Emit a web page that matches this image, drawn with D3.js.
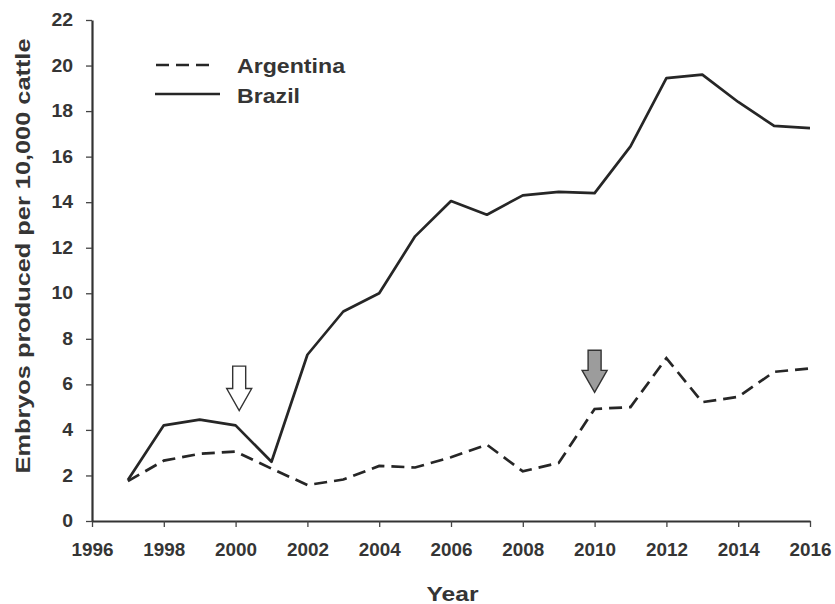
<!DOCTYPE html>
<html>
<head>
<meta charset="utf-8">
<script src="https://cdn.jsdelivr.net/npm/d3@7"></script>
<style>
    body { margin: 0; background: #fff; }
    svg { display: block; }
    text { font-family: "Liberation Sans", Arial, sans-serif; font-weight: bold; fill: #353535; }
</style>
</head>
<body>
<svg></svg>
<script>
// chart data
var years = [1997, 1998, 1999, 2000, 2001, 2002, 2003, 2004, 2005, 2006,
             2007, 2008, 2009, 2010, 2011, 2012, 2013, 2014, 2015, 2016];
var brazil = [1.8, 4.2, 4.45, 4.2, 2.6, 7.3, 9.2, 10.0, 12.5, 14.05,
              13.45, 14.3, 14.45, 14.4, 16.45, 19.45, 19.6, 18.4, 17.35, 17.25];
var argentina = [1.75, 2.65, 2.95, 3.05, 2.3, 1.58, 1.82, 2.42, 2.35, 2.8,
                 3.35, 2.18, 2.55, 4.92, 5.0, 7.15, 5.22, 5.45, 6.55, 6.7];
var xTicks = [1996, 1998, 2000, 2002, 2004, 2006, 2008, 2010, 2012, 2014, 2016];
var yTicks = [0, 2, 4, 6, 8, 10, 12, 14, 16, 18, 20, 22];
var seriesNames = ['Argentina', 'Brazil'];
// arrows marking events: year, top and tip value
var arrowYears = [2000.1, 2010];
var arrowTops = [6.8, 7.5];
var arrowTips = [4.85, 5.65];
var arrowFills = ['#ffffff', '#9c9c9c'];

var width = 835, height = 604;
var svg = d3.select('svg')
    .attr('width', width)
    .attr('height', height);

var x = d3.scaleLinear().domain([1996, 2016]).range([92, 810]);
var y = d3.scaleLinear().domain([0, 22]).range([521, 20]);

// axes
var xAxis = svg.append('g')
    .attr('transform', 'translate(0,' + y(0) + ')')
    .call(d3.axisBottom(x).tickValues(xTicks).tickFormat(d3.format('d'))
        .tickSizeInner(6).tickSizeOuter(0).tickPadding(17));
var yAxis = svg.append('g')
    .attr('transform', 'translate(' + x(1996) + ',0)')
    .call(d3.axisLeft(y).tickValues(yTicks).tickSizeInner(6).tickSizeOuter(0).tickPadding(13));

[xAxis, yAxis].forEach(function (ax) {
    ax.select('.domain').attr('stroke', '#333').attr('stroke-width', 2.2);
    ax.selectAll('.tick line').attr('stroke', '#444').attr('stroke-width', 1.3);
    ax.selectAll('.tick text').style('font-size', '17.5px').attr('fill', '#353535');
});
// the scan is a bit stretched sideways, so widen the glyphs
xAxis.selectAll('.tick text').attr('textLength', 42).attr('lengthAdjust', 'spacingAndGlyphs');
yAxis.selectAll('.tick text')
    .attr('textLength', function (d) { return String(d).length * 10.8; })
    .attr('lengthAdjust', 'spacingAndGlyphs');

// axis titles
svg.append('text')
    .attr('x', 452.5)
    .attr('y', 601)
    .attr('text-anchor', 'middle')
    .attr('textLength', 52)
    .attr('lengthAdjust', 'spacingAndGlyphs')
    .style('font-size', '21px')
    .text('Year');

svg.append('text')
    .attr('transform', 'translate(30,' + 256 + ') rotate(-90)')
    .attr('text-anchor', 'middle')
    .attr('textLength', 435)
    .attr('lengthAdjust', 'spacingAndGlyphs')
    .style('font-size', '21px')
    .text('Embryos produced per 10,000 cattle');

// lines
var line = d3.line()
    .x(function (d, i) { return x(years[i]); })
    .y(function (d) { return y(d); });

svg.append('path')
    .datum(brazil)
    .attr('fill', 'none')
    .attr('stroke', '#262626')
    .attr('stroke-width', 2.7)
    .attr('stroke-linejoin', 'round')
    .attr('d', line);

svg.append('path')
    .datum(argentina)
    .attr('fill', 'none')
    .attr('stroke', '#262626')
    .attr('stroke-width', 2.7)
    .attr('stroke-dasharray', '13,7')
    .attr('d', line);

// arrows
arrowYears.forEach(function (yr, i) {
    var cx = x(yr), top = y(arrowTops[i]), tip = y(arrowTips[i]);
    var headStart = tip - 22;
    var pts = [
        [cx - 6.5, top], [cx + 6.5, top], [cx + 6.5, headStart], [cx + 12.5, headStart],
        [cx, tip], [cx - 12.5, headStart], [cx - 6.5, headStart]
    ];
    svg.append('path')
        .attr('d', 'M' + pts.join('L') + 'Z')
        .attr('fill', arrowFills[i])
        .attr('stroke', '#333')
        .attr('stroke-width', 1.4)
        .attr('stroke-linejoin', 'miter');
});

// legend
var legendWidths = [108, 63];
var legend = svg.append('g');
legend.append('line')
    .attr('x1', 156).attr('x2', 216).attr('y1', 65).attr('y2', 65)
    .attr('stroke', '#262626').attr('stroke-width', 2.7).attr('stroke-dasharray', '13,7');
legend.append('line')
    .attr('x1', 155).attr('x2', 220).attr('y1', 94).attr('y2', 94)
    .attr('stroke', '#262626').attr('stroke-width', 2.7);
legend.selectAll('text.name')
    .data(seriesNames)
    .enter().append('text')
    .attr('class', 'name')
    .attr('x', 237)
    .attr('y', function (d, i) { return 73 + i * 30; })
    .attr('textLength', function (d, i) { return legendWidths[i]; })
    .attr('lengthAdjust', 'spacingAndGlyphs')
    .style('font-size', '20px')
    .text(function (d) { return d; });
</script>
</body>
</html>
